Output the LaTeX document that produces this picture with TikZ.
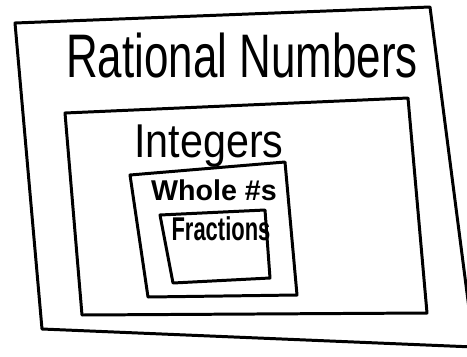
\documentclass[tikz,border=0pt]{standalone}
\usepackage{fontspec}
\setmainfont{Liberation Sans}
\usepackage{graphicx}
\usepackage{tikz}
\usetikzlibrary{positioning, calc}

\begin{document}
\begin{tikzpicture}[x=0.02cm, y=-0.02cm,
    setbox/.style={line width=1.7pt, line join=round, line cap=round},
    bigname/.style={font=\fontsize{25}{29}\selectfont, anchor=base, inner sep=0pt},
    midname/.style={font=\fontsize{23.5}{27}\selectfont, anchor=base, inner sep=0pt},
    smallname/.style={font=\bfseries\fontsize{16.3}{19}\selectfont, anchor=base, inner sep=0pt}]
    \useasboundingbox (0,0) rectangle (467,356);
    \clip (0,0) rectangle (467,356);

    % Rational numbers
    \draw[setbox] (15,23) -- (430,7) -- (474,347) -- (42,329) -- cycle;
    \node[bigname] (rational) at (242,77) {\scalebox{1}[1.4]{Rational Numbers}};

    % Integers
    \draw[setbox] (65,113) -- (408,98) -- (427,313) -- (82,315) -- cycle;
    \node[midname] (integers) at (209,157) {\scalebox{1}[1.15]{Integers}};

    % Whole numbers
    \draw[setbox] (130,175) -- (285,162) -- (297,295) -- (148,297) -- cycle;
    \node[smallname] (whole) at (214,200) {Whole \#s};

    % Fractions
    \draw[setbox] (160,215) -- (265,210) -- (270,278) -- (173,283) -- cycle;
    \node[smallname, font=\bfseries\fontsize{12.5}{15}\selectfont] (fraction) at (221,240) {\scalebox{1}[1.5]{Fractions}};
\end{tikzpicture}
\end{document}
